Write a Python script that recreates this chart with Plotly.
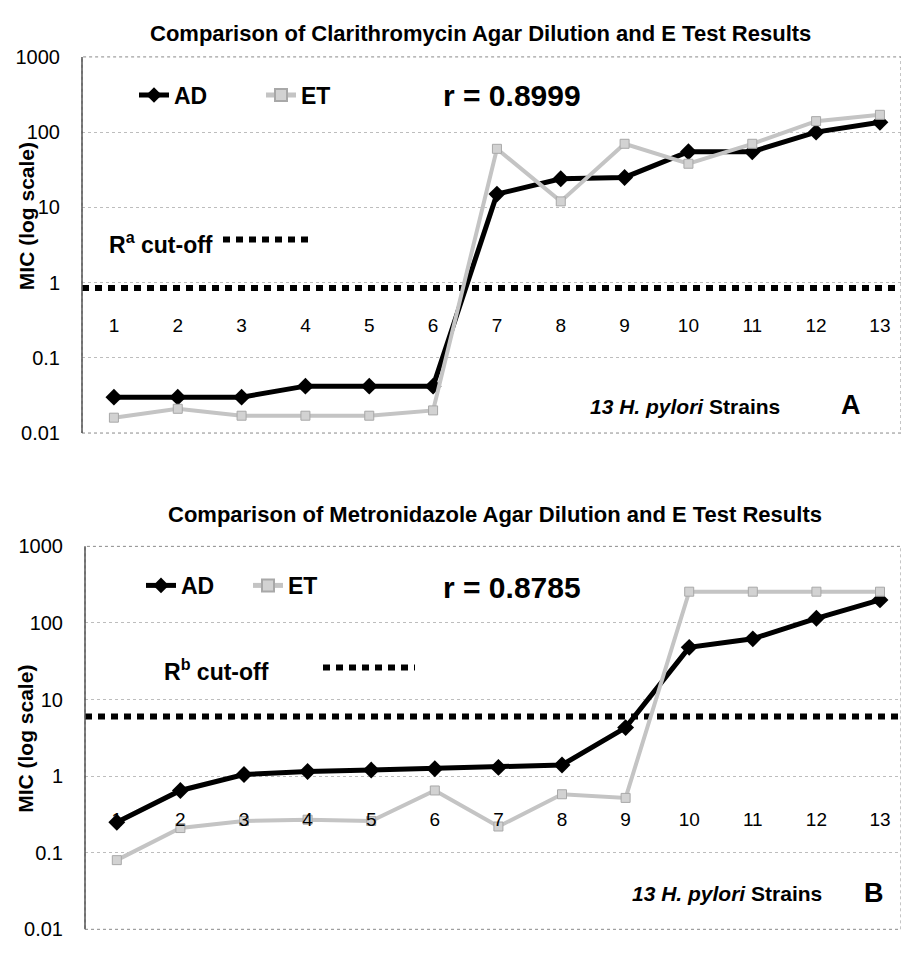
import plotly.graph_objects as go
import math

# ---------------- data ----------------
strains = list(range(1, 14))
ad_clari = [0.03, 0.03, 0.03, 0.042, 0.042, 0.042, 15, 24, 25, 55, 55, 100, 135]
et_clari = [0.016, 0.021, 0.017, 0.017, 0.017, 0.02, 60, 12, 70, 38, 70, 140, 170]
ad_metro = [0.25, 0.65, 1.05, 1.15, 1.2, 1.25, 1.3, 1.4, 4.3, 48, 62, 115, 200]
et_metro = [0.08, 0.21, 0.26, 0.27, 0.26, 0.65, 0.22, 0.58, 0.52, 256, 256, 256, 256]
cut_clari = 0.85
cut_metro = 6
ytickvals = [0.01, 0.1, 1, 10, 100, 1000]
yticktext = ["0.01", "0.1", "1", "10", "100", "1000"]
xtick_text = [str(s) for s in strains]
titles = ["Comparison of Clarithromycin Agar Dilution and E Test Results",
          "Comparison of Metronidazole Agar Dilution and E Test Results"]
r_texts = ["r = 0.8999", "r = 0.8785"]

# ---------------- layout helpers ----------------
W, H = 901, 954
FONT = "Liberation Sans"
XR = [0.5, 13.33]
YR = [-2, 3]


def fx(px):
    return px / W


def fy(py):
    return 1 - py / H


panels = [
    dict(xa="x", ya="y", xdom=[fx(82), 1.0], ydom=[fy(432), fy(47)], leg="legend",
         ad=ad_clari, et=et_clari, cut=cut_clari, title=titles[0], ty=23, tx=480,
         r=r_texts[0], ry=86, cut_lbl="R<sup>a</sup> cut-off", cly=237, clx=107,
         smp=(223, 310, 234), stx=588, sty=405, letter="A", lx=851, ly=403,
         legx=134, legy=86, entw=82, ytl=210),
    dict(xa="x2", ya="y2", xdom=[fx(85), 1.0], ydom=[fy(940), fy(548)], leg="legend2",
         ad=ad_metro, et=et_metro, cut=cut_metro, title=titles[1], ty=515, tx=495,
         r=r_texts[1], ry=590, cut_lbl="R<sup>b</sup> cut-off", cly=675, clx=162,
         smp=(323, 415, 672), stx=630, sty=903, letter="B", lx=874, ly=903,
         legx=141, legy=588, entw=62, ytl=745),
]

fig = go.Figure()
annotations = []
shapes = []
layout = dict(width=W, height=H, margin=dict(l=0, r=0, t=0, b=0),
              paper_bgcolor="white", plot_bgcolor="white",
              font=dict(family=FONT, color="black"), hovermode=False)

for i, p in enumerate(panels):
    # cut-off reference line across the whole axis
    fig.add_trace(go.Scatter(x=XR, y=[p["cut"], p["cut"]], mode="lines",
                             line=dict(color="black", width=6, dash="7px,6px"),
                             showlegend=False, xaxis=p["xa"], yaxis=p["ya"]))
    fig.add_trace(go.Scatter(x=strains, y=p["ad"], name="<b>AD</b>", mode="lines+markers",
                             line=dict(color="black", width=5),
                             marker=dict(symbol="diamond", size=13, color="black"),
                             xaxis=p["xa"], yaxis=p["ya"], legend=p["leg"]))
    fig.add_trace(go.Scatter(x=strains, y=p["et"], name="<b>ET</b>", mode="lines+markers",
                             line=dict(color="#c4c4c4", width=4),
                             marker=dict(symbol="square", size=9, color="#d2d2d2",
                                         line=dict(color="#a8a8a8", width=1)),
                             xaxis=p["xa"], yaxis=p["ya"], legend=p["leg"]))

    d0, d1 = p["ydom"]
    pos_one = d0 + (0 - YR[0]) / (YR[1] - YR[0]) * (d1 - d0)
    sfx = "" if i == 0 else "2"
    layout["xaxis" + sfx] = dict(domain=p["xdom"], range=XR, anchor="free", position=pos_one,
                                 tickvals=strains, ticktext=xtick_text,
                                 ticks="outside", ticklen=26, tickcolor="rgba(0,0,0,0)",
                                 showline=False, showgrid=False, zeroline=False,
                                 tickfont=dict(size=19, family=FONT, color="black"))
    layout["yaxis" + sfx] = dict(domain=p["ydom"], type="log", range=YR,
                                 anchor=p["xa"], tickvals=ytickvals, ticktext=yticktext,
                                 ticks="outside", ticklen=17, tickcolor="rgba(0,0,0,0)",
                                 showline=False, zeroline=False,
                                 showgrid=True, gridcolor="#bdbdbd", griddash="dot", gridwidth=1,
                                 tickfont=dict(size=20, family=FONT, color="black"))
    layout[p["leg"]] = dict(orientation="h", x=fx(p["legx"]), y=fy(p["legy"]),
                            xanchor="left", yanchor="middle", bgcolor="rgba(0,0,0,0)",
                            entrywidth=p["entw"], entrywidthmode="pixels",
                            font=dict(size=23, family=FONT, color="black"),
                            itemsizing="constant", tracegroupgap=0)

    # plot border
    shapes.append(dict(type="rect", xref=p["xa"] + " domain", yref=p["ya"] + " domain",
                       x0=0, x1=1, y0=0, y1=1, line=dict(color="#8a8a8a", width=1, dash="dot")))
    shapes.append(dict(type="line", xref=p["xa"] + " domain", yref=p["ya"] + " domain",
                       x0=0, x1=0, y0=0, y1=1, line=dict(color="#555555", width=1.5)))
    # cut-off key sample
    x0s, x1s, ys = p["smp"]
    shapes.append(dict(type="line", xref="paper", yref="paper", x0=fx(x0s), x1=fx(x1s),
                       y0=fy(ys), y1=fy(ys), line=dict(color="black", width=6, dash="7px,6px")))

    annotations += [
        dict(text="<b>" + p["title"] + "</b>", x=fx(p["tx"]), y=fy(p["ty"]), xref="paper", yref="paper",
             showarrow=False, xanchor="center", yanchor="middle", font=dict(size=22, family=FONT)),
        dict(text="<b>" + p["r"] + "</b>", x=fx(441), y=fy(p["ry"]), xref="paper", yref="paper",
             showarrow=False, xanchor="left", yanchor="middle", font=dict(size=30, family=FONT)),
        dict(text="<b>" + p["cut_lbl"] + "</b>", x=fx(p["clx"]), y=fy(p["cly"]), xref="paper", yref="paper",
             showarrow=False, xanchor="left", yanchor="middle", font=dict(size=23, family=FONT)),
        dict(text="<b><i>13 H. pylori</i> Strains</b>", x=fx(p["stx"]), y=fy(p["sty"]), xref="paper",
             yref="paper", showarrow=False, xanchor="left", yanchor="middle", font=dict(size=21, family=FONT)),
        dict(text="<b>" + p["letter"] + "</b>", x=fx(p["lx"]), y=fy(p["ly"]), xref="paper", yref="paper",
             showarrow=False, xanchor="center", yanchor="middle", font=dict(size=27, family=FONT)),
        dict(text="<b>MIC (log scale)</b>", x=fx(26), y=fy(p["ytl"]), xref="paper", yref="paper",
             showarrow=False, textangle=-90, xanchor="center", yanchor="middle",
             font=dict(size=21, family=FONT)),
    ]

layout["annotations"] = annotations
layout["shapes"] = shapes
fig.update_layout(**layout)
fig.write_html("out.html", config={"displayModeBar": False},
               post_script="document.body.style.margin='0';document.body.style.overflow='hidden';")
